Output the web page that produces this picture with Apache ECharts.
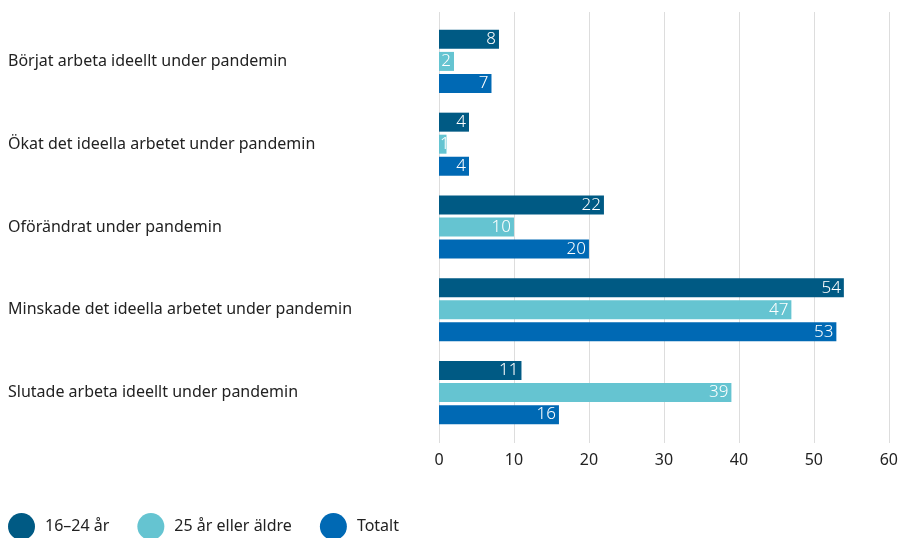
<!DOCTYPE html>
<html>
<head>
<meta charset="utf-8">
<script src="https://cdn.jsdelivr.net/npm/echarts@6/dist/echarts.min.js"></script>
<style>
  html, body { margin: 0; padding: 0; background: #fff; }
  #chart { width: 901px; height: 538px; }
</style>
</head>
<body>
<div id="chart"></div>
<script>
// kategorier uppifrån och ned
var categories = [
  "Börjat arbeta ideellt under pandemin",
  "Ökat det ideella arbetet under pandemin",
  "Oförändrat under pandemin",
  "Minskade det ideella arbetet under pandemin",
  "Slutade arbeta ideellt under pandemin"
];
var seriesNames = ["16–24 år", "25 år eller äldre", "Totalt"];
var young = [8, 4, 22, 54, 11];
var older = [2, 1, 10, 47, 39];
var total = [7, 4, 20, 53, 16];
var xTicks = [0, 10, 20, 30, 40, 50, 60];

var colors = ["#005a84", "#65c4d1", "#0069b4"];
var font = "'Noto Sans', 'Open Sans', sans-serif";

var myChart = echarts.init(document.getElementById("chart"));

function bar(name, data, color) {
  return {
    name: name,
    type: "bar",
    // väldigt korta staplar: etiketten läggs från vänsterkanten
    data: data.map(function (v) {
      return v < 2 ? { value: v, label: { position: "insideLeft", distance: 1 } } : v;
    }),
    barWidth: 19,
    barGap: "16%",
    itemStyle: { color: color },
    label: {
      show: true,
      position: "insideRight",
      distance: 3,
      color: "#fff",
      fontFamily: font,
      fontSize: 17,
      fontWeight: 300
    }
  };
}

myChart.setOption({
  animation: false,
  color: colors,
  grid: { left: 439, right: 11, top: 20, bottom: 104 },
  legend: {
    data: seriesNames,
    left: 8,
    top: 513,
    padding: 0,
    icon: "circle",
    itemWidth: 27,
    itemHeight: 27,
    itemGap: 28,
    textStyle: { fontFamily: font, fontSize: 16, color: "#222", padding: [0, 0, 0, 5] }
  },
  xAxis: [
    {
      type: "value",
      min: xTicks[0],
      max: xTicks[xTicks.length - 1],
      interval: 10,
      axisLine: { show: false },
      axisTick: { show: true, length: 9, lineStyle: { color: "#dddddd" } },
      splitLine: { lineStyle: { color: "#dddddd" } },
      axisLabel: { fontFamily: font, fontSize: 16, color: "#222", margin: 18 }
    },
    {
      type: "value",
      position: "top",
      min: xTicks[0],
      max: xTicks[xTicks.length - 1],
      interval: 10,
      axisLine: { show: false },
      axisTick: { show: true, length: 8, lineStyle: { color: "#dddddd" } },
      splitLine: { show: false },
      axisLabel: { show: false }
    }
  ],
  yAxis: {
    type: "category",
    inverse: true,
    data: categories,
    axisLine: { show: false },
    axisTick: { show: false },
    axisLabel: {
      align: "left",
      margin: 431,
      fontFamily: font,
      fontSize: 16,
      color: "#222",
      padding: [5, 0, 0, 0]
    }
  },
  series: [
    bar(seriesNames[0], young, colors[0]),
    bar(seriesNames[1], older, colors[1]),
    bar(seriesNames[2], total, colors[2])
  ]
});
</script>
</body>
</html>
